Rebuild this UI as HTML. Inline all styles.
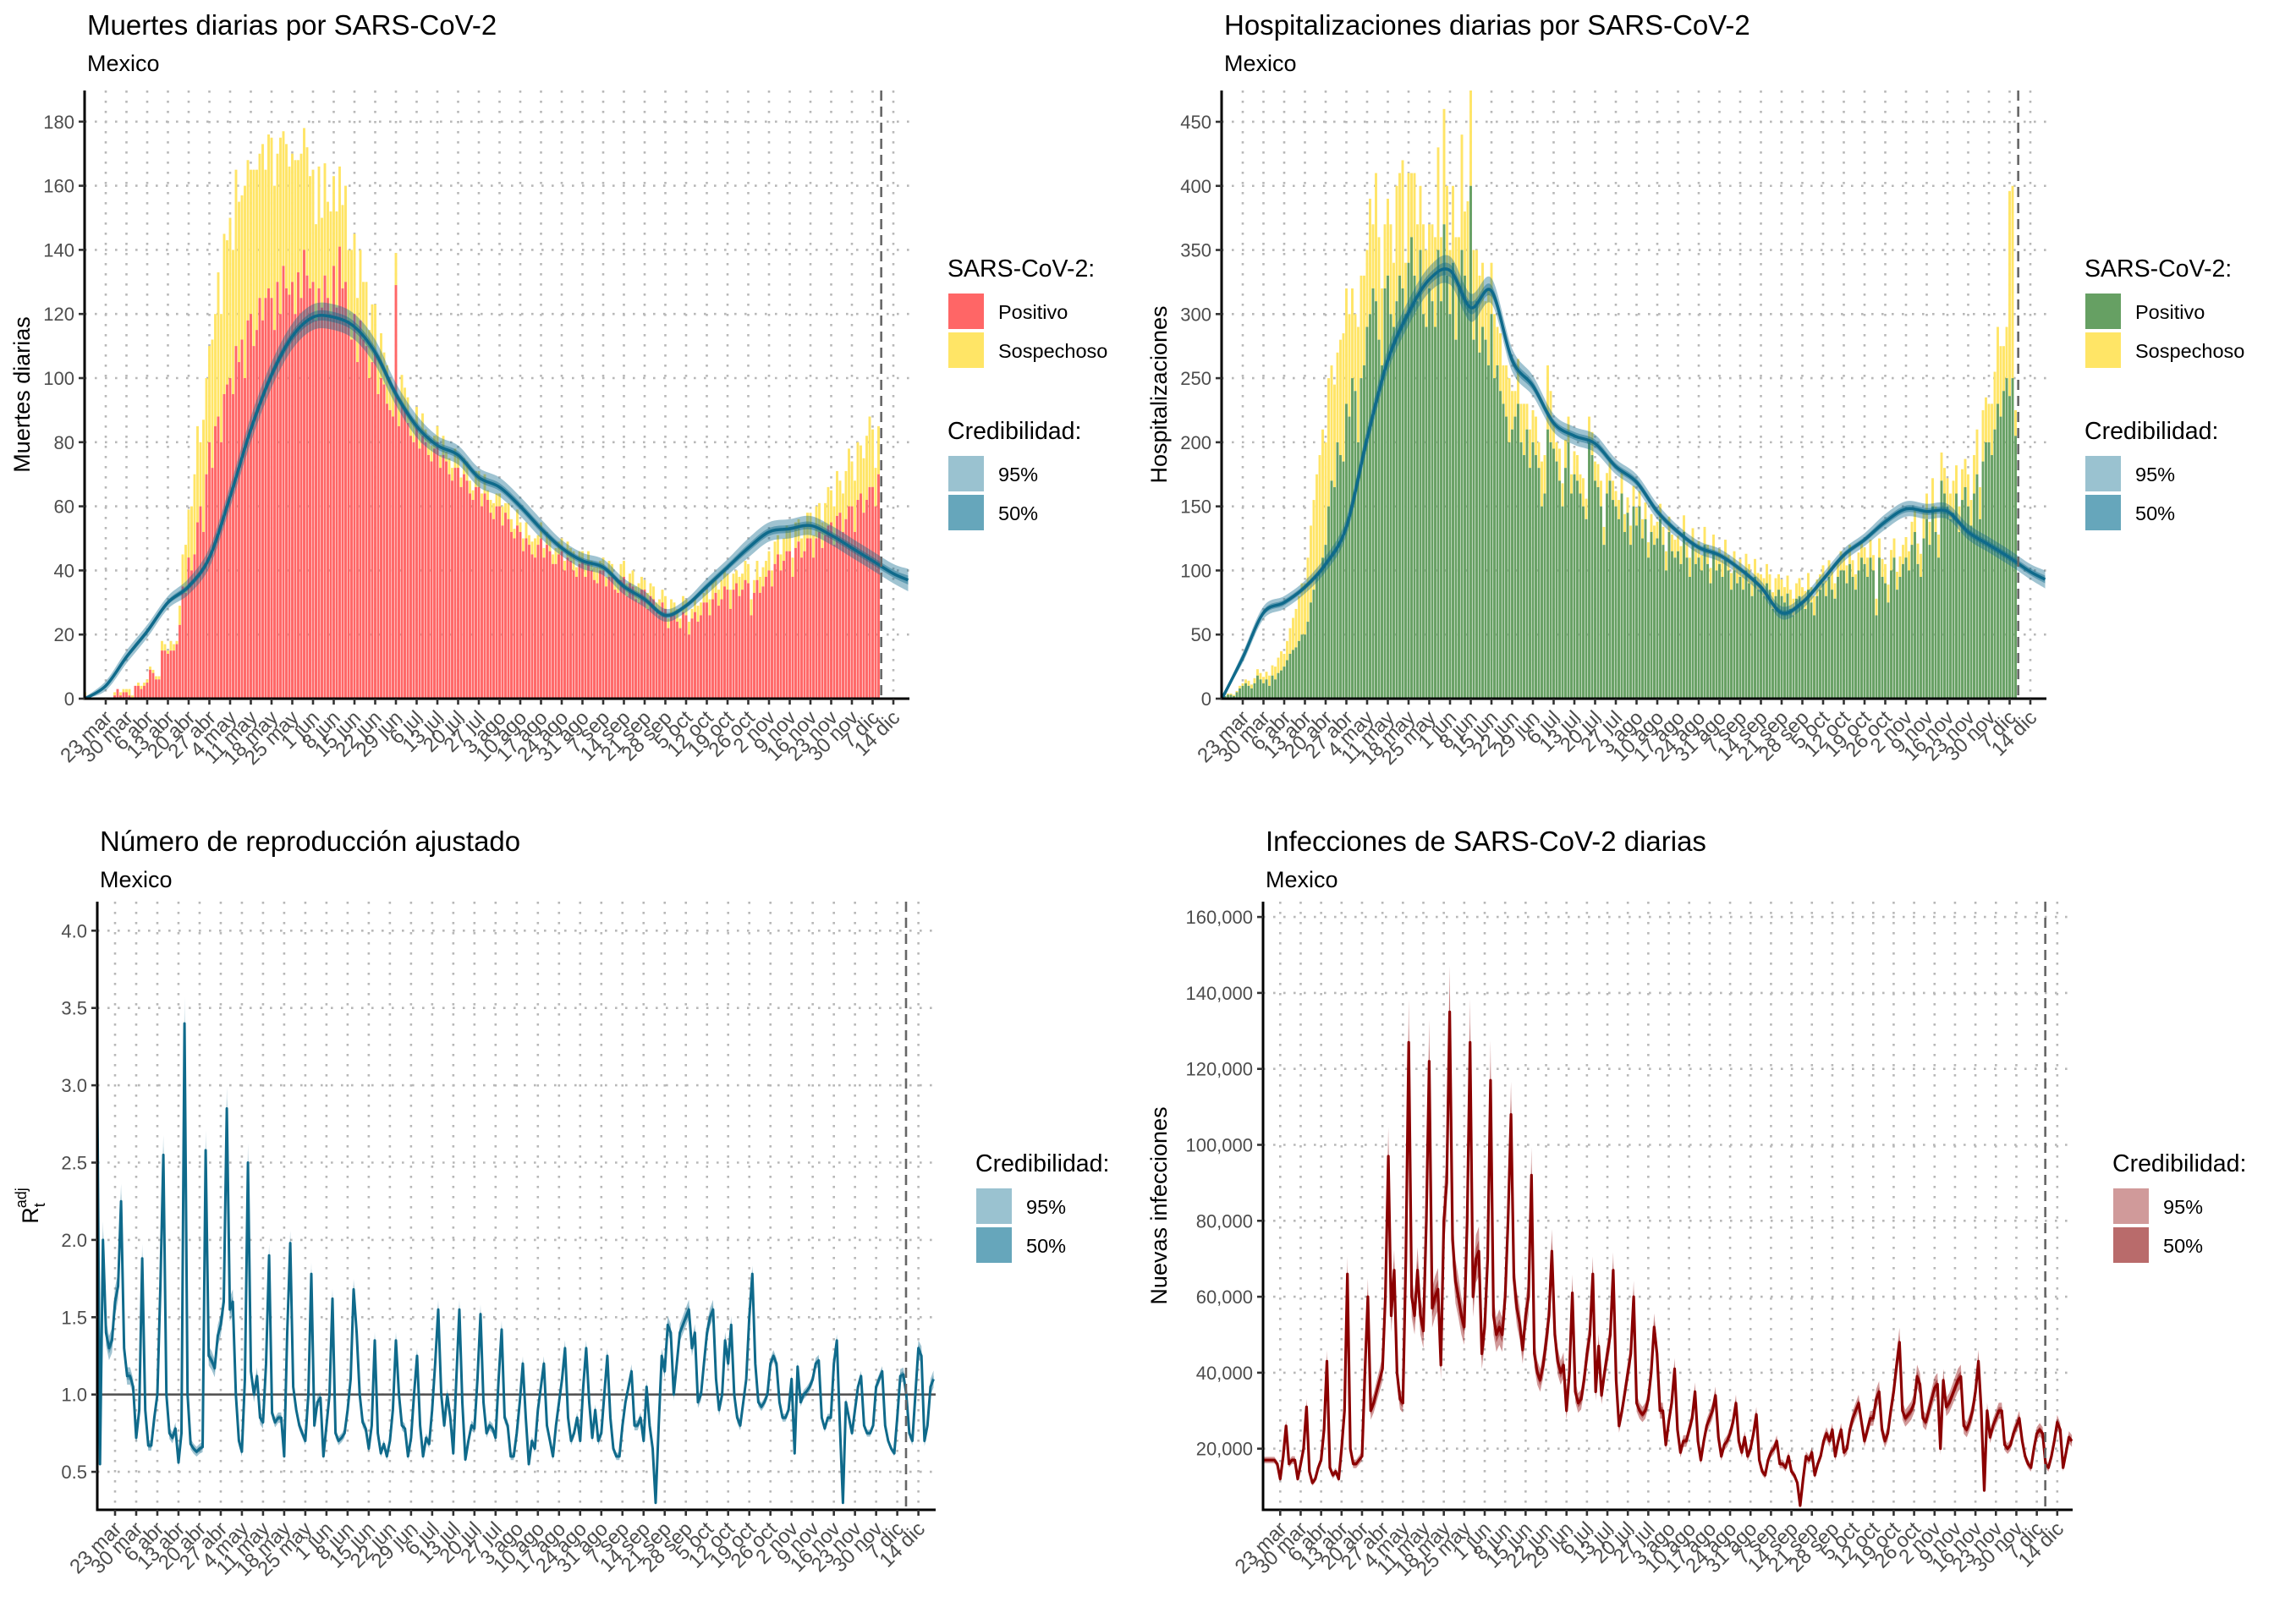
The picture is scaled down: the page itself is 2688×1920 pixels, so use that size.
<!DOCTYPE html>
<html><head><meta charset="utf-8">
<style>
html,body{margin:0;padding:0;background:#fff;}
svg{display:block;font-family:"Liberation Sans",Arial,sans-serif;}
</style></head>
<body>
<svg id="root" xmlns="http://www.w3.org/2000/svg" width="2688" height="1920" viewBox="0 0 2688 1920"></svg>
<script>
// ---------- shared data ----------
const xTickLabels = ["23 mar","30 mar","6 abr","13 abr","20 abr","27 abr","4 may","11 may","18 may","25 may","1 jun","8 jun","15 jun","22 jun","29 jun","6 jul","13 jul","20 jul","27 jul","3 ago","10 ago","17 ago","24 ago","31 ago","7 sep","14 sep","21 sep","28 sep","5 oct","12 oct","19 oct","26 oct","2 nov","9 nov","16 nov","23 nov","30 nov","7 dic","14 dic"];
const forecastDay = 261.9;
// bars: weekly rows starting 16 mar (day -7); day 0 = 23 mar
const deathsPosRows = [
 [1,0,0,0,0,0,0],[0,0,0,1,3,1,2],[2,1,0,4,4,3,4],[5,9,8,6,6,15,15],[14,15,15,17,23,35,33],
 [44,40,45,55,60,52,70],[80,72,85,88,80,95,98],[100,95,110,105,112,100,118],[120,110,115,125,118,125,128],
 [125,115,130,120,135,128,126],[130,120,133,125,140,132,128],[130,118,128,122,132,125,120],[135,122,141,128,130,118,112],
 [120,105,118,112,110,100,105],[108,95,100,98,92,90,88],[129,85,92,90,86,82,80],[85,78,82,80,76,74,78],
 [80,72,76,74,70,68,72],[72,66,70,68,64,62,66],[66,60,64,62,58,56,60],[60,54,58,56,52,50,54],
 [52,46,50,48,45,44,48],[50,44,48,46,42,42,45],[46,40,44,43,40,38,42],[43,38,42,40,37,36,40],
 [40,35,38,38,34,33,37],[38,32,36,35,31,30,34],[34,28,32,31,27,26,30],[28,22,26,26,24,22,27],
 [26,20,25,27,24,26,30],[30,26,31,33,29,31,35],[34,28,34,36,32,34,37],[36,26,33,37,33,35,38],
 [40,35,42,45,40,43,46],[46,38,47,49,44,46,50],[50,44,50,52,47,51,54],[55,48,57,58,52,56,60],
 [60,52,62,64,58,62,66],[66,60,70]];
const deathsSusRows = [
 [1,0,0,0,0,0,0],[0,0,0,1,0,1,1],[1,2,1,0,1,1,1],[1,1,1,1,1,3,2],[1,3,2,1,6,10,15],
 [15,20,25,30,20,35,30],[30,40,35,45,40,50,45],[50,45,55,50,45,60,50],[45,55,50,45,55,40,48],
 [50,45,40,55,42,45,40],[40,48,35,45,38,40,35],[35,30,38,28,35,30,32],[28,30,25,26,30,22,28],
 [25,20,22,18,20,15,18],[15,12,14,10,12,10,8],[10,8,9,7,8,6,7],[6,5,7,4,6,5,4],
 [5,4,6,3,5,4,6],[4,3,5,6,4,3,5],[5,4,6,3,4,5,4],[4,6,3,5,4,3,5],
 [3,4,5,3,4,6,3],[5,3,4,4,3,5,4],[4,3,5,4,6,3,4],[3,5,4,3,4,5,3],
 [4,3,5,4,3,4,5],[5,4,3,5,4,6,4],[3,5,4,4,3,5,4],[4,3,5,4,4,3,5],
 [5,4,3,4,5,4,3],[4,5,6,4,5,6,5],[5,6,5,4,6,5,6],[6,5,4,6,5,6,5],
 [6,5,7,6,5,7,8],[7,6,8,7,6,8,8],[8,7,10,9,8,10,12],[10,12,14,10,12,15,18],
 [14,16,18,15,17,20,22],[18,12,15]];
const hospPosRows = [
 [0,2,3,3,2,5,8],[10,12,10,8,12,18,15],[12,15,10,18,15,20,22],[25,30,35,38,40,45,50],[50,60,75,85,95,100,110],
 [120,150,170,165,200,190,185],[230,220,250,240,200,250,260],[290,300,320,310,280,260,320],[330,300,290,310,330,320,300],
 [340,360,330,310,350,300,290],[320,310,290,350,310,370,330],[300,340,280,320,350,330,310],[400,280,310,270,290,280,260],
 [300,250,260,240,230,220,200],[210,220,230,200,190,210,180],[200,190,180,150,160,210,200],[195,185,170,150,180,200,160],
 [175,170,160,150,140,200,190],[170,165,150,120,160,170,155],[150,140,160,130,145,120,150],[135,150,125,140,110,130,120],
 [125,140,120,100,130,115,110],[115,105,130,110,95,120,105],[110,100,120,105,90,115,100],[105,95,110,100,85,100,90],
 [95,85,100,90,80,95,85],[85,80,90,85,70,80,85],[80,75,82,70,65,78,80],[75,70,85,75,65,80,85],
 [90,80,95,85,78,95,100],[100,90,105,95,85,100,110],[105,95,110,100,65,110,95],[90,75,100,110,85,95,105],
 [110,100,120,130,105,95,125],[140,120,150,130,110,170,160],[150,140,145,160,130,155,165],[150,135,160,175,140,185,200],
 [200,190,210,230,220,240,250],[236,250,205]];
const hospSusRows = [
 [0,0,1,1,1,1,2],[2,3,4,3,4,5,5],[5,6,8,8,10,12,15],[10,15,20,25,30,35,40],[40,50,60,70,80,90,100],
 [80,100,90,80,70,90,100],[90,80,70,60,90,80,70],[60,90,50,100,80,60,50],[60,70,50,90,80,100,40],
 [70,50,80,60,50,70,60],[50,60,70,80,50,90,70],[50,60,80,40,90,50,78],[78,70,40,60,50,30,60],
 [40,50,30,45,30,40,50],[30,20,35,30,40,20,30],[25,30,20,35,30,50,40],[20,15,25,18,22,20,15],
 [18,20,15,22,16,20,18],[15,18,20,14,16,18,15],[12,15,18,14,12,15,16],[14,12,15,13,12,14,15],
 [13,12,14,15,12,13,14],[12,14,13,12,15,13,12],[13,12,14,15,12,13,14],[12,13,14,12,13,15,12],
 [14,12,13,15,12,14,13],[12,14,15,12,13,14,12],[13,12,14,15,13,12,14],[12,14,13,12,15,13,12],
 [14,12,13,14,12,13,15],[12,14,15,13,12,14,13],[13,15,14,12,13,15,14],[15,14,16,15,14,16,15],
 [16,15,18,17,16,18,20],[20,18,22,20,18,22,20],[22,20,25,22,20,24,22],[25,20,30,35,25,40,35],
 [30,40,45,60,55,35,40],[160,150,20]];
const deathsPos = deathsPosRows.flat();
const deathsSus = deathsSusRows.flat();
const hospPos = hospPosRows.flat();
const hospSus = hospSusRows.flat();
// weekly smoothed curves (days listed explicitly)
const curveDays = [-7,0,7,14,21,28,35,42,49,56,63,70,77,84,91,98,105,112,119,126,133,140,147,154,161,168,175,182,189,196,203,210,217,224,231,238,245,252,259,266,271];
const deathsCurve = [0,4,13,21,30,35,44,63,84,101,113,119,119,116,108,95,85,79,76,69,66,60,53,47,43,41,35,31,26,29,35,41,47,52,53,54,51,47,43,39,37];
const deathsBand95 = [0.5,1.5,2,2,2,2.5,3,3.5,4,4,4,4,4,4,4,3.5,3.5,3,3,3,3,3,3,2.5,2.5,2.5,2.5,2.5,2,2,2.5,2.5,3,3,3,3,3,3,3,3,3.5];
const deathsBand50 = [0.2,0.6,0.8,0.8,0.8,1,1.2,1.4,1.6,1.6,1.6,1.6,1.6,1.6,1.6,1.4,1.4,1.2,1.2,1.2,1.2,1.2,1.2,1,1,1,1,1,0.8,0.8,1,1,1.2,1.2,1.2,1.2,1.2,1.2,1.2,1.2,1.4];
const hospCurve = [0,32,67,75,87,105,134,203,264,301,327,334,305,318,264,244,215,205,199,181,169,146,130,118,112,101,87,67,75,93,112,124,138,148,146,146,130,120,110,99,93];
const hospBand95 = [1,4,5,5,5,6,7,8,9,10,10,11,11,10,9,8,7,7,7,6,6,6,5,5,5,5,5,5,5,5,5,5,6,6,6,6,6,6,6,6,7];
const hospBand50 = [0.4,1.8,2.2,2.2,2.2,2.7,3,3.5,4,4.5,4.5,5,5,4.5,4,3.5,3,3,3,2.7,2.7,2.7,2.2,2.2,2.2,2.2,2.2,2.2,2.2,2.2,2.2,2.2,2.7,2.7,2.7,2.7,2.7,2.7,2.7,2.7,3];
// daily series start at day -6 (17 mar)
const rValues = [3.3,0.55,2.0,1.4,1.3,1.35,1.6, 1.7,2.25,1.3,1.12,1.12,1.05,0.72, 0.9,1.88,0.9,0.67,0.67,0.85,1.0, 1.7,2.55,1.0,0.75,0.72,0.78,0.56, 0.75,3.4,1.0,0.68,0.65,0.63,0.65, 0.66,2.58,1.25,1.22,1.17,1.38,1.45, 1.6,2.85,1.55,1.6,1.0,0.7,0.63, 1.1,2.5,1.15,1.0,1.12,0.85,0.82, 1.2,1.9,0.88,0.82,0.85,0.85,0.6, 1.4,1.98,1.05,0.9,0.8,0.75,0.7, 1.0,1.78,0.8,0.95,0.98,0.6,0.8, 1.0,1.62,0.75,0.7,0.72,0.75,0.9, 1.1,1.68,1.4,1.0,0.82,0.78,0.65, 0.8,1.35,0.75,0.62,0.68,0.6,0.7, 0.9,1.35,1.0,0.8,0.78,0.6,0.72, 1.0,1.25,0.8,0.6,0.72,0.68,0.9, 1.2,1.55,1.0,0.8,1.0,0.85,0.62, 1.1,1.55,0.95,0.58,0.7,0.8,0.78, 1.1,1.52,0.95,0.75,0.8,0.78,0.72, 1.1,1.42,0.85,0.8,0.6,0.6,0.75, 0.95,1.2,0.85,0.55,0.7,0.65,0.9, 1.05,1.2,0.8,0.7,0.6,0.8,0.95, 1.1,1.3,0.85,0.7,0.75,0.85,0.7, 1.05,1.3,0.95,0.72,0.9,0.7,0.75, 1.0,1.25,0.85,0.65,0.6,0.6,0.8, 0.95,1.05,1.15,0.8,0.8,0.85,0.7, 1.05,0.8,0.65,0.3,0.8,1.25,1.15, 1.45,1.4,1.0,1.2,1.4,1.45,1.5, 1.55,1.3,1.4,0.95,1.0,1.2,1.4, 1.5,1.55,1.1,0.9,1.0,1.35,1.2, 1.45,1.0,0.85,0.8,0.95,1.1,1.5, 1.78,1.2,0.95,0.92,0.95,1.0,1.2, 1.25,1.2,0.95,0.85,0.85,0.9,1.1, 0.62,1.18,0.95,1.0,1.02,1.05,1.1, 1.2,1.22,0.85,0.78,0.85,0.85,1.2, 1.35,0.8,0.3,0.95,0.85,0.75,0.9, 1.05,1.12,0.8,0.75,0.75,0.8,1.05, 1.1,1.15,0.8,0.7,0.65,0.62,0.85, 1.12,1.13,1.0,0.75,0.7,1.0,1.3, 1.25,0.7,0.8,1.05,1.1];
const rBandRel = [0.06,0.05,0.05,0.05,0.05,0.05,0.05,0.05,0.04,0.04,0.04,0.04,0.04,0.04,0.04,0.04,0.04,0.04,0.04,0.04,0.04,0.04,0.04,0.04,0.04,0.04,0.04,0.04,0.04,0.04,0.04,0.03,0.03,0.03,0.03,0.03,0.03,0.03,0.04,0.05];
const infValues = [17,17,17,17,17,16,12, 18,26,16,17,17,12,16, 20,31,14,11,12,15,17, 25,43,15,13,14,12,20, 30,66,20,16,16,17,18, 40,60,30,32,35,38,41, 60,97,55,67,40,33,32, 70,127,60,55,67,55,51, 80,122,57,60,62,42,80, 90,135,75,64,60,55,52, 80,127,60,70,72,45,52, 70,117,55,50,52,50,60, 80,108,65,57,53,46,55, 60,92,45,40,38,42,48, 55,72,50,43,40,42,30, 40,61,35,32,33,38,45, 50,66,35,47,34,40,45, 50,67,38,26,30,35,40, 45,60,32,30,29,30,33, 40,52,45,30,30,21,27, 32,41,25,19,22,22,25, 28,35,22,17,22,26,28, 30,34,23,18,21,22,24, 27,32,22,19,23,18,20, 24,29,17,14,13,17,19, 20,22,16,16,15,18,14, 13,11,5,12,18,17,19, 13,16,18,22,24,22,25, 18,22,25,19,20,25,28, 30,32,27,22,25,28,28, 33,35,25,22,24,30,35, 42,48,30,28,29,30,32, 39,37,28,27,30,33,36, 37,20,38,31,32,34,36, 38,39,26,25,27,30,35, 43,30,9,30,23,26,28, 30,30,21,20,21,24,26, 28,22,18,16,15,20,24, 25,24,16,15,18,22,27, 25,15,19,23,22];
const infBandRel = [0.05,0.06,0.07,0.07,0.07,0.08,0.08,0.09,0.09,0.09,0.09,0.09,0.08,0.08,0.08,0.08,0.07,0.07,0.07,0.07,0.07,0.07,0.07,0.07,0.07,0.07,0.07,0.07,0.07,0.07,0.08,0.08,0.08,0.08,0.08,0.07,0.07,0.07,0.07,0.07];
const deathsYTicks = [0,20,40,60,80,100,120,140,160,180];
const hospYTicks = [0,50,100,150,200,250,300,350,400,450];
const rYTicks = [0.5,1.0,1.5,2.0,2.5,3.0,3.5,4.0];
const infYTicks = [20000,40000,60000,80000,100000,120000,140000,160000];

// ---------- helpers ----------
const NS = "http://www.w3.org/2000/svg";
const root = document.getElementById('root');
function mk(tag, parent, attrs) {
  const e = document.createElementNS(NS, tag);
  for (const k in attrs) e.setAttribute(k, attrs[k]);
  parent.appendChild(e);
  return e;
}
function smooth(pts) {
  let d = "M" + pts[0][0].toFixed(1) + "," + pts[0][1].toFixed(1);
  for (let i = 0; i < pts.length - 1; i++) {
    const p0 = pts[Math.max(0, i - 1)], p1 = pts[i], p2 = pts[i + 1], p3 = pts[Math.min(pts.length - 1, i + 2)];
    const c1x = p1[0] + (p2[0] - p0[0]) / 6, c1y = p1[1] + (p2[1] - p0[1]) / 6;
    const c2x = p2[0] - (p3[0] - p1[0]) / 6, c2y = p2[1] - (p3[1] - p1[1]) / 6;
    d += "C" + c1x.toFixed(1) + "," + c1y.toFixed(1) + " " + c2x.toFixed(1) + "," + c2y.toFixed(1) + " " + p2[0].toFixed(1) + "," + p2[1].toFixed(1);
  }
  return d;
}
function linePath(pts) { return "M" + pts.map(p => p[0].toFixed(1) + "," + p[1].toFixed(1)).join("L"); }
function fmtThousands(v) { return v.toString().replace(/\B(?=(\d{3})+(?!\d))/g, ","); }

function panel(cfg) {
  const g = mk('g', root, {});
  
  
  const X = d => cfg.x0 + cfg.pxDay * d;
  const Y = v => cfg.yBase - (v - cfg.vBase) * cfg.pxUnit;
  const t = mk('text', g, {x: cfg.left + 3, y: cfg.titleY, 'font-size': 33, fill: '#000'});
  t.textContent = cfg.title;
  
  
  const st = mk('text', g, {x: cfg.left + 3, y: cfg.titleY + 43, 'font-size': 27, fill: '#000'});
  st.textContent = 'Mexico';
  
  
  const grid = mk('g', g, {stroke: '#b8b8b8', 'stroke-width': 2.6, 'stroke-dasharray': '2.6 9.4'});
  
  
  xTickLabels.forEach((lab, i) => {
    const x = X(i * 7);
    const l = mk('line', grid, {x1: x, x2: x, y1: cfg.top, y2: cfg.bottom});
    
    
  });
  cfg.yTicks.forEach(v => {
    const y = Y(v);
    const l = mk('line', grid, {x1: cfg.left, x2: cfg.right, y1: y, y2: y});
    
    
  });
  const cid = 'clip-' + cfg.name;
  const cp = mk('clipPath', g, {id: cid});
  mk('rect', cp, {x: cfg.left, y: cfg.top, width: cfg.right - cfg.left, height: cfg.bottom - cfg.top});
  const plot = mk('g', g, {'clip-path': 'url(#' + cid + ')'});
  
  
  cfg.draw(plot, X, Y);
  const fl = mk('line', g, {x1: X(forecastDay), x2: X(forecastDay), y1: cfg.top, y2: cfg.bottom, stroke: '#666', 'stroke-width': 2.6, 'stroke-dasharray': '12 7'});
  
  
  const ax = mk('path', g, {d: 'M' + cfg.left + ',' + cfg.top + 'V' + cfg.bottom + 'H' + cfg.right, fill: 'none', stroke: '#000', 'stroke-width': 3});
  
  
  cfg.yTicks.forEach(v => {
    const y = Y(v);
    mk('line', g, {x1: cfg.left - 7, x2: cfg.left, y1: y, y2: y, stroke: '#333', 'stroke-width': 2.6});
    const tl = mk('text', g, {x: cfg.left - 12, y: y + 8, 'font-size': 22, fill: '#4d4d4d', 'text-anchor': 'end'});
    tl.textContent = cfg.yFmt(v);
    
    
  });
  xTickLabels.forEach((lab, i) => {
    const x = X(i * 7);
    mk('line', g, {x1: x, x2: x, y1: cfg.bottom, y2: cfg.bottom + 7, stroke: '#333', 'stroke-width': 2.6});
    const tl = mk('text', g, {x: 0, y: 0, 'font-size': 24, fill: '#4d4d4d', 'text-anchor': 'end', transform: 'translate(' + (x + 9) + ',' + (cfg.bottom + 24) + ') rotate(-45)'});
    tl.textContent = lab;
    
    
  });
  const yt = mk('text', g, {x: 0, y: 0, 'font-size': 27, fill: '#000', 'text-anchor': 'middle', transform: 'translate(' + cfg.yTitleX + ',' + ((cfg.top + cfg.bottom) / 2) + ') rotate(-90)'});
  
  
  if (cfg.yTitle === 'R') {
    const a = mk('tspan', yt, {}); a.textContent = 'R';
    const b = mk('tspan', yt, {'font-size': 18, dy: 8}); b.textContent = 't';
    const c = mk('tspan', yt, {'font-size': 18, dx: -6, dy: -22}); c.textContent = 'adj';
  } else yt.textContent = cfg.yTitle;
  const lg = mk('g', g, {});
  
  
  cfg.legend.forEach(sec => {
    const tt = mk('text', lg, {x: cfg.legX, y: sec.y, 'font-size': 28.5, fill: '#000'});
    tt.textContent = sec.title;
    
    
    sec.items.forEach((it, k) => {
      const yy = sec.y + 20 + k * 46;
      const r = mk('rect', lg, {x: cfg.legX + 1, y: yy, width: 42, height: 42, fill: it.color});
      
      
      const lt = mk('text', lg, {x: cfg.legX + 60, y: yy + 30, 'font-size': 23.5, fill: '#000'});
      lt.textContent = it.label;
      
      
    });
  });
}

function drawBars(plot, X, Y, pos, sus, posColor, startDay) {
  const bw = 2.9;
  pos.forEach((v, i) => {
    const d = startDay + i;
    const x = X(d) - bw / 2;
    const s = sus[i] || 0;
    if (s > 0) {
      const r2 = mk('rect', plot, {x: x, y: Y(v + s), width: bw, height: Y(v) - Y(v + s), fill: '#FFE566'});
      
      
    }
    if (v > 0) {
      const r = mk('rect', plot, {x: x, y: Y(v), width: bw, height: Y(0) - Y(v), fill: posColor});
      
      
    }
  });
}
function drawSmoothCurve(plot, X, Y, vals, b95, b50, col) {
  const hi95 = vals.map((v, i) => [X(curveDays[i]), Y(v + b95[i])]);
  const lo95 = vals.map((v, i) => [X(curveDays[i]), Y(Math.max(0, v - b95[i]))]).reverse();
  const hi50 = vals.map((v, i) => [X(curveDays[i]), Y(v + b50[i])]);
  const lo50 = vals.map((v, i) => [X(curveDays[i]), Y(Math.max(0, v - b50[i]))]).reverse();
  const p95 = mk('path', plot, {d: smooth(hi95) + 'L' + smooth(lo95).slice(1) + 'Z', fill: col, 'fill-opacity': 0.4});
  
  
  const p50 = mk('path', plot, {d: smooth(hi50) + 'L' + smooth(lo50).slice(1) + 'Z', fill: col, 'fill-opacity': 0.45});
  
  
  const ln = mk('path', plot, {d: smooth(vals.map((v, i) => [X(curveDays[i]), Y(v)])), fill: 'none', stroke: col, 'stroke-width': 3.5});
  
  
}
function drawDaily(plot, X, Y, vals, rel, col, scale, startDay, lw) {
  const band = (f) => {
    const hi = vals.map((v, i) => [X(startDay + i), Y(v * scale * (1 + f * rel[Math.floor(i / 7)]))]);
    const lo = vals.map((v, i) => [X(startDay + i), Y(v * scale * (1 - f * rel[Math.floor(i / 7)]))]).reverse();
    return linePath(hi) + 'L' + linePath(lo).slice(1) + 'Z';
  };
  const p95 = mk('path', plot, {d: band(1), fill: col, 'fill-opacity': 0.4});
  
  
  const p50 = mk('path', plot, {d: band(0.45), fill: col, 'fill-opacity': 0.45});
  
  
  const ln = mk('path', plot, {d: linePath(vals.map((v, i) => [X(startDay + i), Y(v * scale)])), fill: 'none', stroke: col, 'stroke-width': lw, 'stroke-linejoin': 'round'});
  
  
}

const blueItems = [{color: '#9AC2D0', label: '95%'}, {color: '#66A6BB', label: '50%'}];
const redItems = [{color: '#D09A9A', label: '95%'}, {color: '#B96B6B', label: '50%'}];

panel({name: 'deaths-chart', title: 'Muertes diarias por SARS-CoV-2', titleY: 41,
  left: 100, right: 1075, top: 107, bottom: 826, x0: 125, pxDay: 3.5,
  yBase: 826, vBase: 0, pxUnit: 3.79, yTicks: deathsYTicks, yFmt: v => String(v),
  yTitle: 'Muertes diarias', yTitleX: 35, legX: 1120,
  legend: [{title: 'SARS-CoV-2:', y: 327, items: [{color: '#FF6666', label: 'Positivo'}, {color: '#FFE566', label: 'Sospechoso'}]}, {title: 'Credibilidad:', y: 519, items: blueItems}],
  draw: (p, X, Y) => { drawBars(p, X, Y, deathsPos, deathsSus, '#FF6666', -7); drawSmoothCurve(p, X, Y, deathsCurve, deathsBand95, deathsBand50, '#0F6A8B'); }
});
panel({name: 'hospitalizations-chart', title: 'Hospitalizaciones diarias por SARS-CoV-2', titleY: 41,
  left: 1444, right: 2419, top: 107, bottom: 826, x0: 1469, pxDay: 3.5,
  yBase: 826, vBase: 0, pxUnit: 1.5156, yTicks: hospYTicks, yFmt: v => String(v),
  yTitle: 'Hospitalizaciones', yTitleX: 1379, legX: 2464,
  legend: [{title: 'SARS-CoV-2:', y: 327, items: [{color: '#66A063', label: 'Positivo'}, {color: '#FFE566', label: 'Sospechoso'}]}, {title: 'Credibilidad:', y: 519, items: blueItems}],
  draw: (p, X, Y) => { drawBars(p, X, Y, hospPos, hospSus, '#66A063', -7); drawSmoothCurve(p, X, Y, hospCurve, hospBand95, hospBand50, '#0F6A8B'); }
});
panel({name: 'rt-chart', title: 'Número de reproducción ajustado', titleY: 1006,
  left: 115, right: 1106, top: 1066, bottom: 1785, x0: 136, pxDay: 3.57,
  yBase: 1648.7, vBase: 1, pxUnit: 182.8, yTicks: rYTicks, yFmt: v => v.toFixed(1),
  yTitle: 'R', yTitleX: 45, legX: 1153,
  legend: [{title: 'Credibilidad:', y: 1385, items: blueItems}],
  draw: (p, X, Y) => {
    const one = mk('line', p, {x1: 115, x2: 1106, y1: Y(1), y2: Y(1), stroke: '#555', 'stroke-width': 2.6});
    
    
    drawDaily(p, X, Y, rValues, rBandRel, '#0F6A8B', 1, -6, 3);
  }
});
panel({name: 'infections-chart', title: 'Infecciones de SARS-CoV-2 diarias', titleY: 1006,
  left: 1493, right: 2450, top: 1066, bottom: 1785, x0: 1513.3, pxDay: 3.453,
  yBase: 1712.7, vBase: 20000, pxUnit: 0.00449, yTicks: infYTicks, yFmt: fmtThousands,
  yTitle: 'Nuevas infecciones', yTitleX: 1379, legX: 2497,
  legend: [{title: 'Credibilidad:', y: 1385, items: redItems}],
  draw: (p, X, Y) => { drawDaily(p, X, Y, infValues, infBandRel, '#8B0000', 1000, -6, 3.2); }
});
</script>
</body></html>
